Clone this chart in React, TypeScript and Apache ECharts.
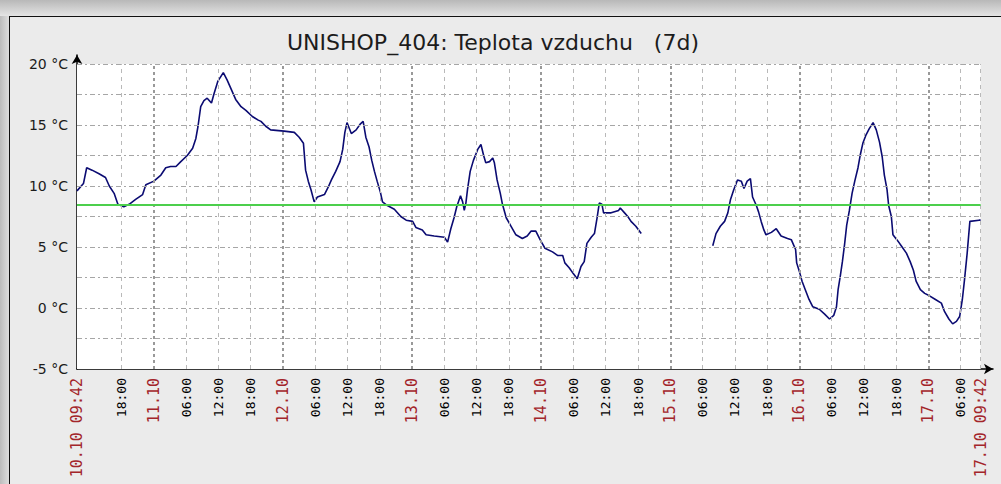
import React, { useEffect, useRef } from "react";
import * as echarts from "echarts";

// hours since 10.10 00:00
const hours: number[] = [
  9.7, 10.9, 11.5, 12.5, 13.8, 15.0, 15.7, 16.6, 17.3, 18.4, 19.4, 20.6, 21.9, 22.5, 24.0, 25.3, 26.2, 27.1, 28.1, 29.0,
  30.2, 31.2, 31.8, 32.2, 32.7, 33.3, 33.9, 34.7, 35.2, 35.9, 36.9, 37.6, 38.3, 39.2, 40.2, 41.1, 42.3, 43.4, 43.9, 44.8,
  45.7, 48.2, 50.1, 51.0, 51.8, 52.2, 52.7, 53.2, 53.8, 54.4, 55.7, 56.4, 57.0, 57.8, 58.6, 59.1, 59.5, 59.9, 60.7, 61.6,
  62.4, 62.9, 63.4, 64.0, 64.5, 65.0, 65.5, 66.1, 66.5, 67.4, 68.7, 69.9, 70.9, 72.1, 72.7, 73.9, 74.6, 76.1, 78.0, 78.6,
  79.2, 79.8, 80.3, 81.0, 81.4, 81.7, 82.0, 82.3, 82.8, 83.4, 84.2, 84.8, 85.3, 85.7, 86.4, 87.0, 87.3, 87.8, 88.4, 88.8,
  89.5, 90.4, 91.3, 92.5, 93.4, 94.1, 95.0, 95.8, 96.7, 98.1, 99.1, 100.0, 100.4, 101.2, 102.0, 102.7, 103.4, 104.0, 104.5, 105.3,
  105.9, 106.4, 106.8, 107.3, 107.6, 109.0, 110.4, 110.7, 111.5, 112.1, 112.7, 113.6, 114.6, 115.0,
  127.9, 128.5, 129.3, 130.1, 130.7, 131.2, 131.8, 132.5, 133.2, 133.7, 134.3, 134.9, 135.3, 136.0, 136.4, 136.9, 137.4, 137.8,
  138.8, 139.7, 140.6, 141.8, 142.5, 142.8, 143.3, 143.5, 144.0, 144.5, 145.1, 145.8, 146.5, 147.7, 148.7, 149.6, 150.4, 150.9,
  151.2, 151.6, 152.0, 152.4, 152.8, 153.3, 153.8, 154.3, 154.9, 155.3, 155.8, 156.4, 157.0, 157.7, 158.3, 158.9, 159.4, 159.8,
  160.3, 160.6, 161.1, 161.4, 162.3, 163.1, 163.9, 164.6, 165.2, 165.7, 166.5, 167.3, 168.2, 169.3, 170.4, 171.0, 171.8, 172.5,
  173.2, 173.8, 174.3, 174.7, 175.2, 175.7, 177.4, 177.7,
];

const temps: (number | null)[] = [
  9.6, 10.2, 11.5, 11.3, 11.0, 10.7, 10.0, 9.4, 8.5, 8.3, 8.5, 8.9, 9.3, 10.1, 10.4, 10.9, 11.5, 11.6, 11.6, 12.0,
  12.5, 13.1, 13.9, 14.9, 16.5, 17.0, 17.2, 16.8, 17.6, 18.6, 19.3, 18.7, 18.0, 17.1, 16.5, 16.2, 15.7, 15.4, 15.3, 14.9,
  14.6, 14.5, 14.4, 14.0, 13.5, 11.3, 10.4, 9.7, 8.7, 9.1, 9.3, 9.9, 10.5, 11.2, 12.0, 13.0, 14.4, 15.2, 14.3, 14.6,
  15.1, 15.3, 14.0, 13.2, 12.1, 11.2, 10.4, 9.5, 8.7, 8.4, 8.1, 7.5, 7.2, 7.1, 6.6, 6.4, 6.0, 5.9, 5.8, 5.4,
  6.5, 7.4, 8.3, 9.2, 8.7, 8.0, 8.6, 9.7, 11.2, 12.1, 13.0, 13.4, 12.5, 11.9, 12.0, 12.3, 11.9, 10.5, 9.4, 8.5,
  7.4, 6.7, 6.0, 5.7, 5.9, 6.3, 6.3, 5.6, 4.9, 4.6, 4.3, 4.3, 3.7, 3.3, 2.8, 2.4, 3.4, 3.8, 5.3, 5.8,
  6.1, 7.4, 8.6, 8.5, 7.8, 7.8, 8.0, 8.2, 7.8, 7.5, 7.1, 6.7, 6.1, null,
  5.1, 6.1, 6.7, 7.1, 7.8, 8.9, 9.7, 10.5, 10.4, 9.8, 10.4, 10.6, 9.1, 8.4, 7.9, 7.1, 6.4, 6.0,
  6.2, 6.5, 5.9, 5.7, 5.6, 5.3, 4.8, 3.7, 3.0, 2.2, 1.5, 0.7, 0.1, -0.1, -0.5, -0.9, -0.6, 0.1,
  1.5, 2.6, 3.8, 5.2, 6.8, 8.0, 9.4, 10.4, 11.5, 12.5, 13.5, 14.2, 14.7, 15.2, 14.6, 13.6, 12.4, 10.9,
  9.7, 8.4, 7.5, 6.0, 5.5, 5.0, 4.5, 3.8, 3.1, 2.2, 1.5, 1.2, 1.0, 0.7, 0.4, -0.3, -0.9, -1.3,
  -1.1, -0.7, 0.7, 2.3, 4.5, 7.1, 7.2, 7.2,
];

const thresholdValue = 8.5;

const tickHours: number[] = [
  9.7, 18, 24, 30, 36, 42, 48, 54, 60, 66, 72, 78, 84, 90, 96, 102, 108, 114, 120, 126, 132, 138, 144, 150, 156,
  162, 168, 174, 177.7,
];
const tickLabels: string[] = [
  "10.10 09:42", "18:00", "11.10", "06:00", "12:00", "18:00", "12.10", "06:00", "12:00", "18:00", "13.10",
  "06:00", "12:00", "18:00", "14.10", "06:00", "12:00", "18:00", "15.10", "06:00", "12:00", "18:00", "16.10",
  "06:00", "12:00", "18:00", "17.10", "06:00", "17.10 09:42",
];
const dayLineHours: number[] = [24, 48, 72, 96, 120, 144, 168];
const hourLineHours: number[] = [18, 30, 36, 42, 54, 60, 66, 78, 84, 90, 102, 108, 114, 126, 132, 138, 150, 156, 162, 174, 177.7];
const yGridValues: number[] = [-2.5, 0, 2.5, 5, 7.5, 10, 12.5, 15, 17.5, 20];
const yLabelValues: number[] = [-5, 0, 5, 10, 15, 20];

const X_START = 9.7;
const X_END = 177.7;
const Y_MIN = -5;
const Y_TOP = 20;

export default function App() {
  const ref = useRef<HTMLDivElement>(null);
  useEffect(() => {
    if (!ref.current) return;
    const chart = echarts.init(ref.current, undefined, { renderer: "svg" });
    const lineData = hours.map((h, i) => [h, temps[i]]);
    const vLines: any[] = [];
    hourLineHours.forEach((h) =>
      vLines.push([
        { coord: [h, Y_MIN], lineStyle: { color: "#b9b9b9", width: 1, type: [4, 4] } },
        { coord: [h, Y_TOP] },
      ])
    );
    dayLineHours.forEach((h) =>
      vLines.push([
        { coord: [h, Y_MIN], lineStyle: { color: "#999999", width: 2, type: [3, 3] } },
        { coord: [h, Y_TOP] },
      ])
    );
    const hLines: any[] = yGridValues.map((v) => [
      { coord: [X_START, v], lineStyle: { color: "#a6a6a6", width: 1, type: [5, 3, 2, 3] } },
      { coord: [X_END, v] },
    ]);

    chart.setOption({
      animation: false,
      backgroundColor: "#ebebeb",
      graphic: [
        {
          type: "rect",
          shape: { x: 0, y: 0, width: 1001, height: 16 },
          style: {
            fill: new echarts.graphic.LinearGradient(0, 0, 0, 1, [
              { offset: 0, color: "#b8b8b8" },
              { offset: 1, color: "#e4e4e4" },
            ]),
          },
          silent: true,
        },
        {
          type: "rect",
          shape: { x: 0, y: 16, width: 9, height: 468 },
          style: {
            fill: new echarts.graphic.LinearGradient(0, 0, 1, 0, [
              { offset: 0, color: "#bcbcbc" },
              { offset: 1, color: "#dedede" },
            ]),
          },
          silent: true,
        },
        { type: "line", shape: { x1: 9, y1: 16.5, x2: 1001, y2: 16.5 }, style: { stroke: "#111", lineWidth: 1 }, silent: true },
        { type: "line", shape: { x1: 9.5, y1: 16, x2: 9.5, y2: 484 }, style: { stroke: "#111", lineWidth: 1 }, silent: true },
      ],
      title: {
        text: "UNISHOP_404: Teplota vzduchu   (7d)",
        left: 282,
        top: 26,
        textStyle: { fontFamily: "DejaVu Sans", fontSize: 22, fontWeight: "normal", color: "#1c1c1c" },
      },
      grid: { left: 77, right: 8, top: 55, bottom: 115, containLabel: false },
      xAxis: {
        type: "value",
        min: X_START,
        max: 180,
        axisLine: {
          onZero: false,
          lineStyle: { color: "#000", width: 1.5 },
          symbol: ["none", "arrow"],
          symbolSize: [8, 9],
        },
        axisTick: { show: false, customValues: tickHours },
        splitLine: { show: false },
        axisLabel: {
          customValues: tickHours,
          rotate: 90,
          margin: 9,
          formatter: (v: number) => {
            let idx = 0;
            let best = Infinity;
            tickHours.forEach((t, i) => {
              const d = Math.abs(t - v);
              if (d < best) {
                best = d;
                idx = i;
              }
            });
            const s = tickLabels[idx];
            return s.indexOf(".") >= 0 ? "{d|" + s + "}" : "{h|" + s + "}";
          },
          rich: {
            d: { fontFamily: "DejaVu Sans Mono", fontSize: 15, color: "#a3252a" },
            h: { fontFamily: "DejaVu Sans Mono", fontSize: 13, color: "#000" },
          },
        },
      },
      yAxis: {
        type: "value",
        min: Y_MIN,
        max: 20.74,
        axisLine: {
          show: true,
          lineStyle: { color: "#000", width: 1.5 },
          symbol: ["none", "arrow"],
          symbolSize: [8, 9],
        },
        axisTick: { show: false },
        splitLine: { show: false },
        axisLabel: {
          customValues: yLabelValues,
          margin: 9,
          fontFamily: "DejaVu Sans",
          fontSize: 14,
          color: "#1c1c1c",
          formatter: (v: number) => v + " °C",
        },
      },
      series: [
        {
          type: "line",
          data: [],
          z: 1,
          silent: true,
          markArea: {
            silent: true,
            itemStyle: { color: "#ffffff" },
            data: [[{ coord: [X_START, Y_MIN] }, { coord: [X_END, Y_TOP] }]],
          },
        },
        {
          type: "line",
          data: [],
          z: 2,
          silent: true,
          markLine: {
            silent: true,
            symbol: "none",
            label: { show: false },
            data: [...hLines, ...vLines],
          },
        },
        {
          type: "line",
          data: [],
          z: 3,
          silent: true,
          markLine: {
            silent: true,
            symbol: "none",
            label: { show: false },
            lineStyle: { color: "#4ccf4c", width: 2, type: "solid" },
            data: [[{ coord: [X_START, thresholdValue] }, { coord: [X_END, thresholdValue] }]],
          },
        },
        {
          type: "line",
          data: lineData,
          z: 4,
          showSymbol: false,
          connectNulls: false,
          lineStyle: { color: "#0b0b72", width: 1.6 },
        },
      ],
    });
    return () => chart.dispose();
  }, []);
  return <div ref={ref} style={{ position: "fixed", left: 0, top: 0, width: 1001, height: 484 }} />;
}
